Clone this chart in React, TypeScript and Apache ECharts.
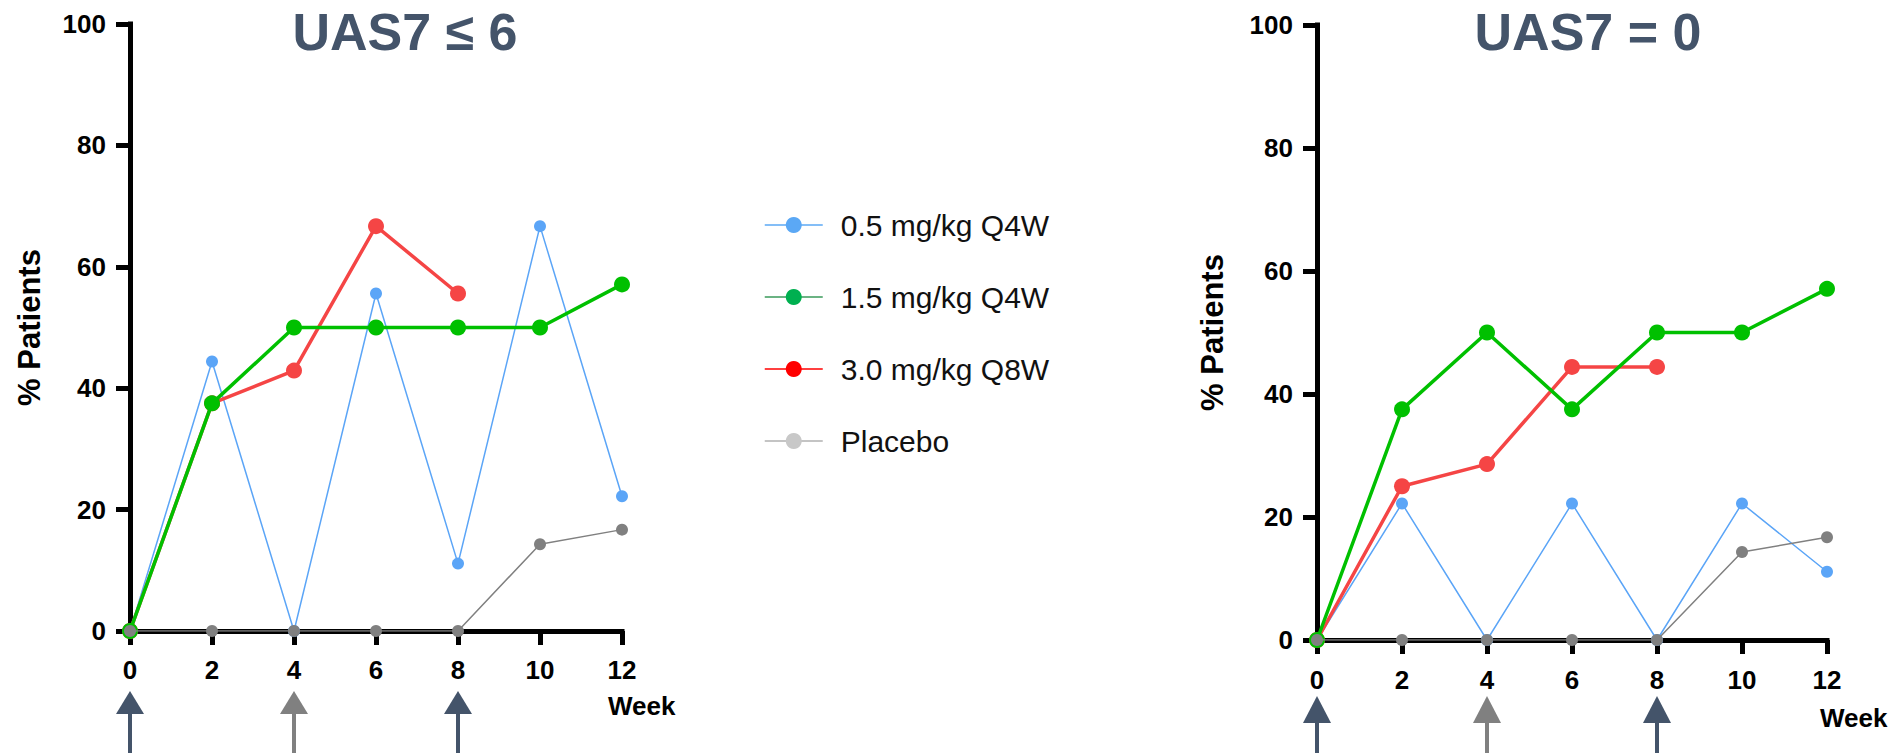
import React, { useEffect, useRef } from "react";
import * as echarts from "echarts";

// ---------- data ----------
const weeks = [0, 2, 4, 6, 8, 10, 12];
const seriesNames = ["0.5 mg/kg Q4W", "1.5 mg/kg Q4W", "3.0 mg/kg Q8W", "Placebo"];
const panelTitles = ["UAS7 ≤ 6", "UAS7 = 0"];
const yAxisName = "% Patients";
const xAxisName = "Week";

// Left panel: UAS7 ≤ 6
const leftDose05 = [0, 44.4, 0, 55.6, 11.1, 66.7, 22.2];
const leftDose15 = [0, 37.5, 50, 50, 50, 50, 57.1];
const leftDose30 = [0, 37.5, 42.9, 66.7, 55.6];
const leftPlacebo = [0, 0, 0, 0, 0, 14.3, 16.7];

// Right panel: UAS7 = 0
const rightDose05 = [0, 22.2, 0, 22.2, 0, 22.2, 11.1];
const rightDose15 = [0, 37.5, 50, 37.5, 50, 50, 57.1];
const rightDose30 = [0, 25, 28.6, 44.4, 44.4];
const rightPlacebo = [0, 0, 0, 0, 0, 14.3, 16.7];

// Dosing arrows under the x axis (weeks)
const arrowWeeks = [0, 4, 8];
const arrowColors = ["#44546A", "#808080", "#44546A"];

// ---------- styles ----------
const FONT = '"Liberation Sans", Arial, Helvetica, sans-serif';
const lineColors = ["#5BA5F7", "#00C000", "#F54545", "#808080"];
const lineWidths = [1.5, 3.5, 3.5, 1.5];
const symbolSizes = [12, 16, 16, 12];
const seriesZ = [2, 4, 3, 5];
const legendMarkerColors = ["#5BA8F5", "#00B050", "#FF0000", "#C8C8C8"];
const legendLineColors = ["#5BA8F5", "#3A9A5A", "#FF0000", "#B0B0B0"];

const grids = [
  { left: 130, top: 24, width: 492, height: 607 },
  { left: 1317, top: 25, width: 510, height: 615 },
];
const titlePos = [
  { x: 405, y: 32 },
  { x: 1588, y: 32 },
];
const yNameGap = [85, 89];
const weekNameGap = [-14, -7];
const weekNamePad = [62, 65];
const xLabelMargin = [26, 27];
const arrowGeom = [
  { top: 691, base: 714 },
  { top: 696, base: 723 },
];

const panels = [
  [leftDose05, leftDose15, leftDose30, leftPlacebo],
  [rightDose05, rightDose15, rightDose30, rightPlacebo],
];

export default function App() {
  const ref = useRef<HTMLDivElement | null>(null);

  useEffect(() => {
    if (!ref.current) return;
    const chart = echarts.init(ref.current, undefined, { renderer: "svg" });

    const xAxes = grids.map((_, gi) => ({
      type: "value",
      gridIndex: gi,
      min: 0,
      max: 12,
      interval: 2,
      splitLine: { show: false },
      axisLine: { show: true, onZero: false, lineStyle: { color: "#000", width: 5, cap: "square" } },
      axisTick: { show: true, length: 14, lineStyle: { color: "#000", width: 5 } },
      axisLabel: {
        margin: xLabelMargin[gi],
        fontSize: 26,
        fontWeight: "bold",
        color: "#000",
        fontFamily: FONT,
      },
      name: xAxisName,
      nameLocation: "end",
      nameGap: weekNameGap[gi],
      nameTextStyle: {
        fontSize: 26,
        fontWeight: "bold",
        color: "#000",
        fontFamily: FONT,
        verticalAlign: "top",
        padding: [weekNamePad[gi], 0, 0, 0],
      },
    }));

    const yAxes = grids.map((_, gi) => ({
      type: "value",
      gridIndex: gi,
      min: 0,
      max: 100,
      interval: 20,
      splitLine: { show: false },
      axisLine: { show: true, onZero: false, lineStyle: { color: "#000", width: 5, cap: "square" } },
      axisTick: { show: true, length: 14, lineStyle: { color: "#000", width: 5 } },
      axisLabel: {
        margin: 24,
        fontSize: 26,
        fontWeight: "bold",
        color: "#000",
        fontFamily: FONT,
      },
      name: yAxisName,
      nameLocation: "middle",
      nameRotate: 90,
      nameGap: yNameGap[gi],
      nameTextStyle: {
        fontSize: 31,
        fontWeight: "bold",
        color: "#000",
        fontFamily: FONT,
      },
    }));

    const series: any[] = [];
    panels.forEach((panel, gi) => {
      panel.forEach((vals, si) => {
        series.push({
          type: "line",
          name: seriesNames[si],
          xAxisIndex: gi,
          yAxisIndex: gi,
          data: vals.map((v, i) => [weeks[i], v]),
          symbol: "circle",
          symbolSize: symbolSizes[si],
          showSymbol: true,
          z: seriesZ[si],
          itemStyle: { color: lineColors[si] },
          lineStyle: { color: lineColors[si], width: lineWidths[si] },
          emphasis: { disabled: true },
          silent: true,
        });
      });
    });

    chart.setOption({
      animation: false,
      backgroundColor: "#fff",
      grid: grids.map((g) => ({ ...g, containLabel: false })),
      xAxis: xAxes,
      yAxis: yAxes,
      legend: {
        orient: "vertical",
        left: 759,
        top: 205,
        itemWidth: 58,
        itemHeight: 20,
        itemGap: 42,
        selectedMode: false,
        textStyle: { fontSize: 30, color: "#111", fontFamily: FONT, padding: [0, 0, 0, 13] },
        data: seriesNames.map((n, i) => ({
          name: n,
          itemStyle: { color: legendMarkerColors[i] },
          lineStyle: { color: legendLineColors[i], width: 1.5 },
        })),
      },
      series,
    });

    const graphics: any[] = [];
    panelTitles.forEach((t, gi) => {
      graphics.push({
        type: "text",
        x: titlePos[gi].x,
        y: titlePos[gi].y,
        silent: true,
        style: {
          text: t,
          font: `bold 52px ${FONT}`,
          fill: "#44546A",
          align: "center",
          verticalAlign: "middle",
          textAlign: "center",
          textVerticalAlign: "middle",
        },
      });
    });
    grids.forEach((_, gi) => {
      arrowWeeks.forEach((w, ai) => {
        const cx = chart.convertToPixel({ xAxisIndex: gi }, w) as number;
        const { top, base } = arrowGeom[gi];
        const color = arrowColors[ai];
        graphics.push({
          type: "polygon",
          silent: true,
          shape: { points: [[cx, top], [cx - 14, base], [cx + 14, base]] },
          style: { fill: color },
        });
        graphics.push({
          type: "rect",
          silent: true,
          shape: { x: cx - 2, y: base - 1, width: 4, height: 753 - base + 1 },
          style: { fill: color },
        });
      });
    });
    chart.setOption({ graphic: graphics });

    return () => {
      chart.dispose();
    };
  }, []);

  return (
    <div
      ref={ref}
      style={{ position: "fixed", left: 0, top: 0, width: 1896, height: 753, background: "#fff" }}
    />
  );
}
